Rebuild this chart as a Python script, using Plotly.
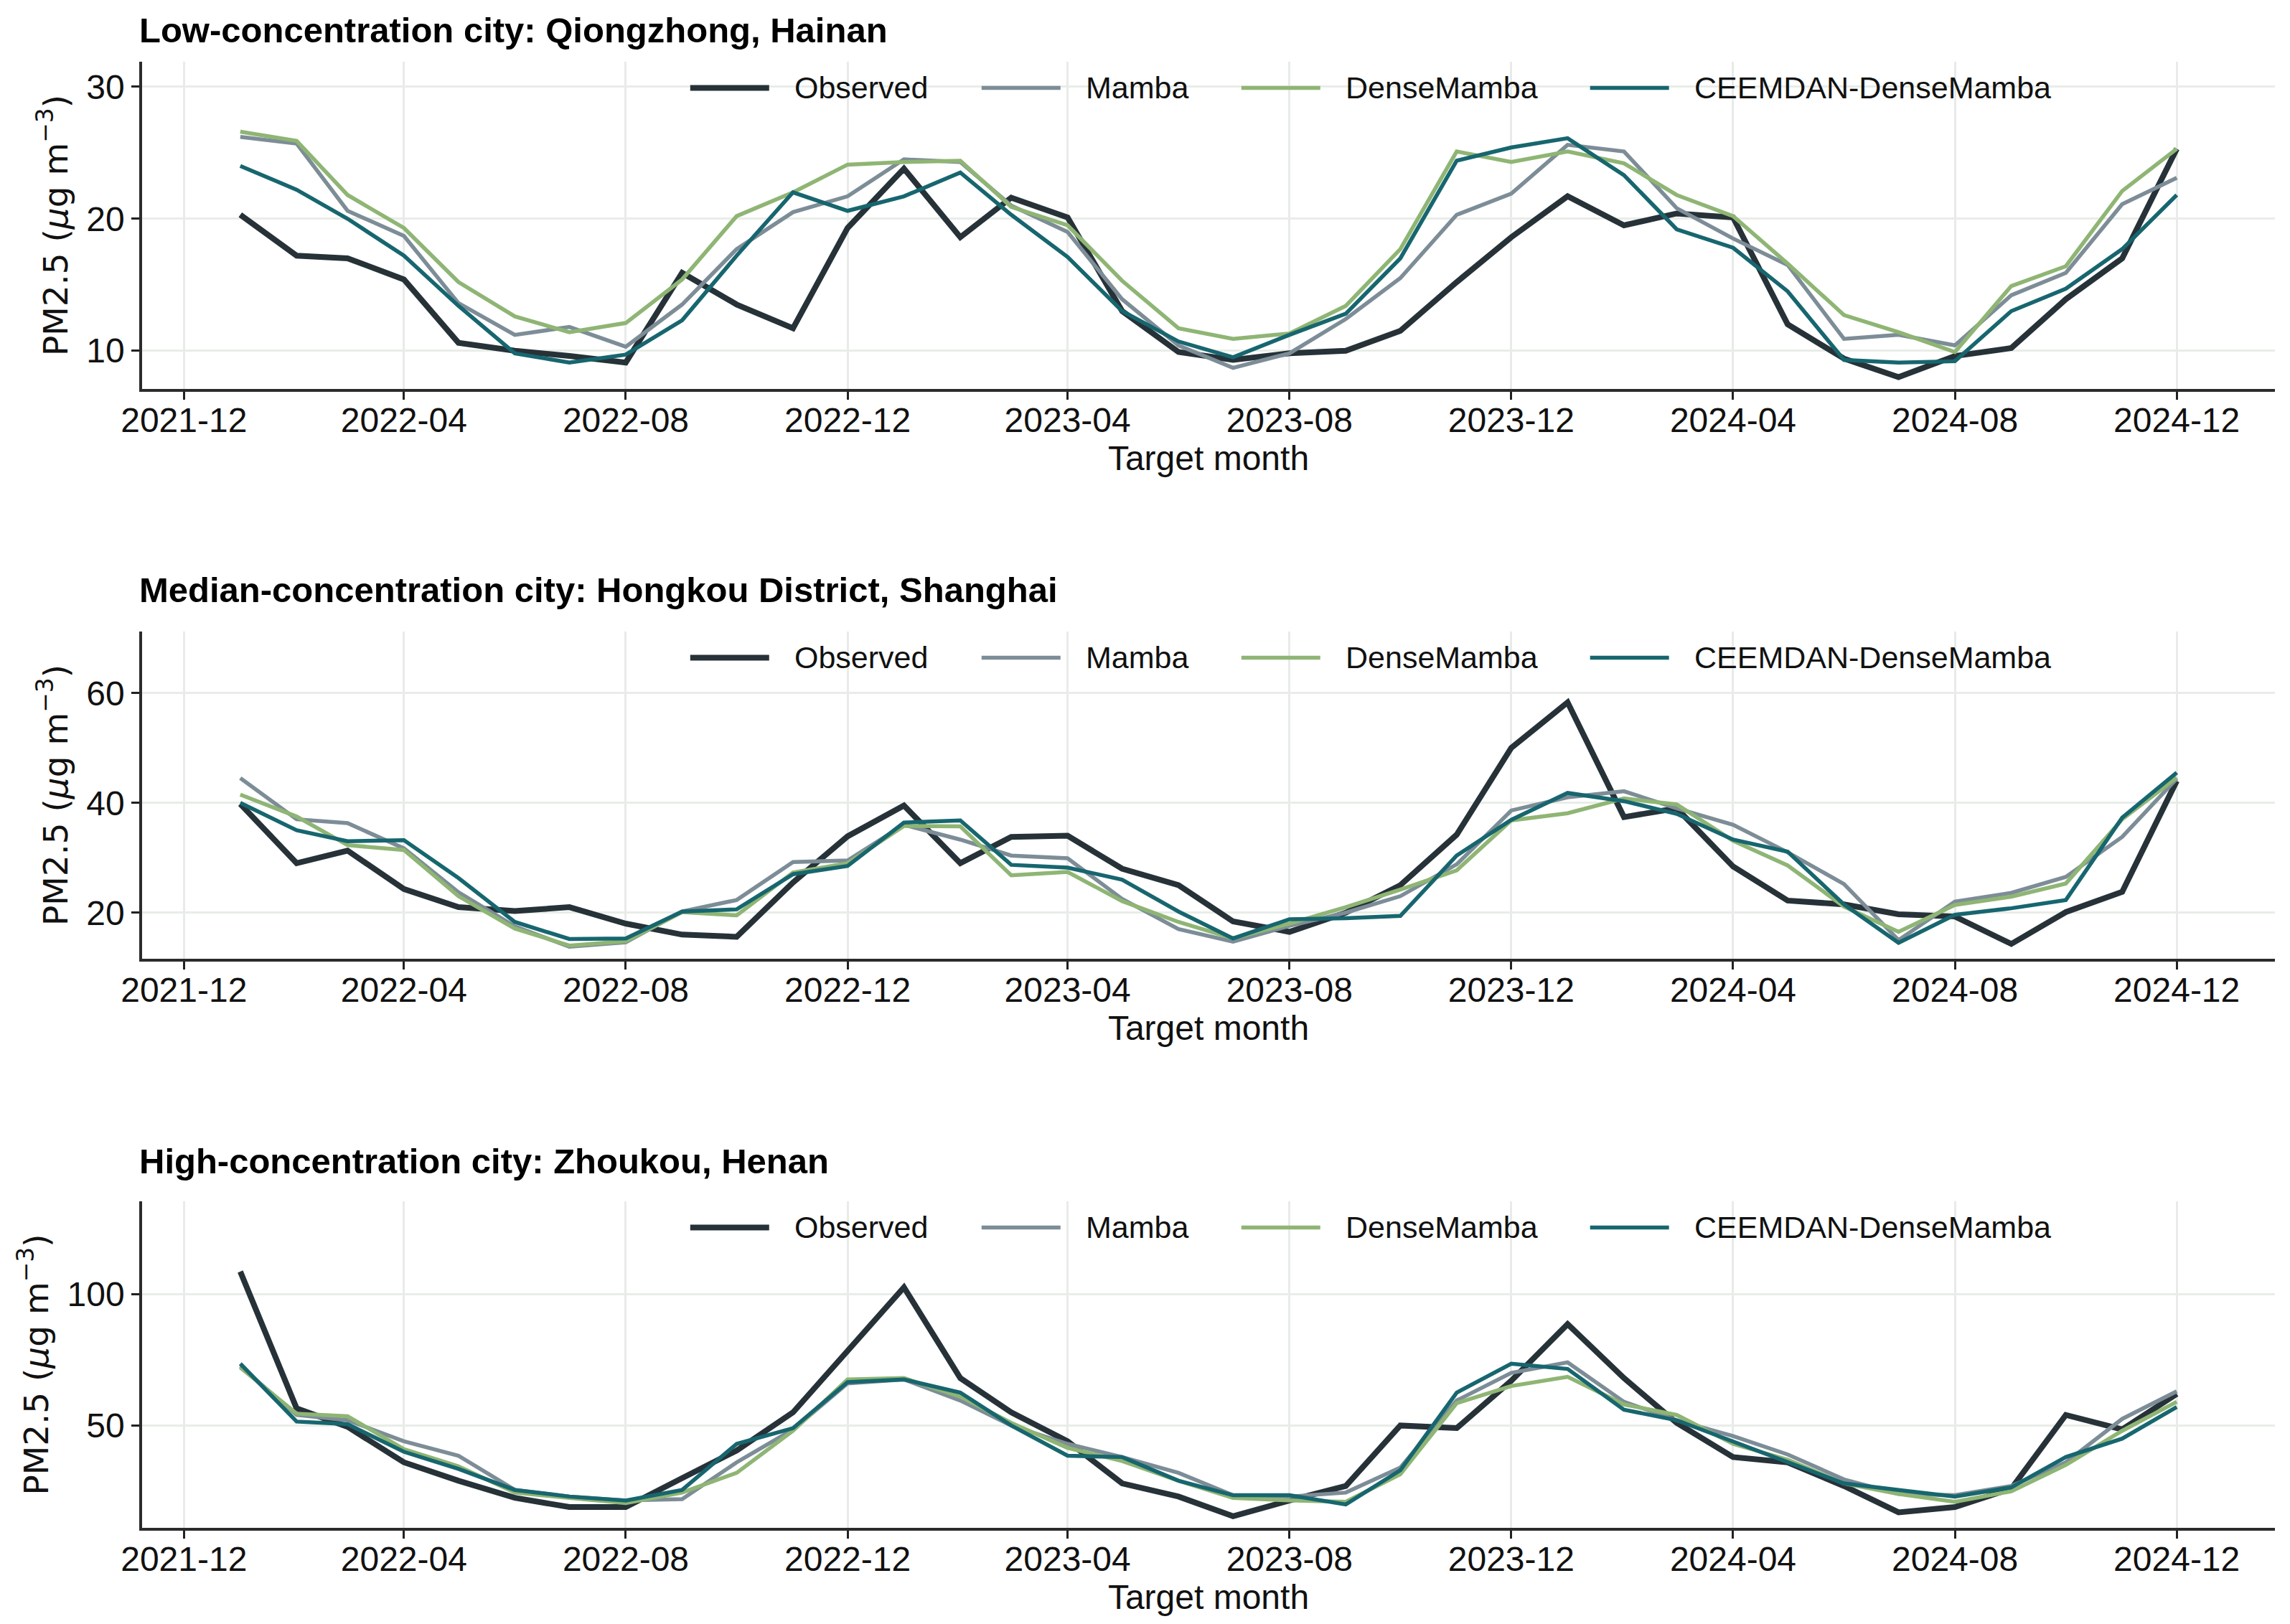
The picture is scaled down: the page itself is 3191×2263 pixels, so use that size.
"""Monthly PM2.5 forecasts for three example cities."""

import pandas as pd
import plotly.graph_objects as go
from plotly.subplots import make_subplots

months = pd.date_range("2022-01-01", "2024-12-01", freq="MS")

series_names = ["Observed", "Mamba", "DenseMamba", "CEEMDAN-DenseMamba"]
panel_titles = [
    "Low-concentration city: Qiongzhong, Hainan",
    "Median-concentration city: Hongkou District, Shanghai",
    "High-concentration city: Zhoukou, Henan",
]

# Qiongzhong, Hainan
low_observed = [20.3, 17.2, 17.0, 15.4, 10.6, 10.0, 9.6, 9.1, 15.9, 13.5, 11.7, 19.3,
                23.8, 18.6, 21.6, 20.1, 13.0, 9.9, 9.3, 9.8, 10.0, 11.5, 15.2, 18.6,
                21.7, 19.5, 20.4, 20.1, 12.0, 9.4, 8.0, 9.6, 10.2, 13.9, 17.0, 25.3]
low_mamba = [26.2, 25.7, 20.6, 18.7, 13.6, 11.2, 11.8, 10.3, 13.5, 17.7, 20.5, 21.7,
             24.5, 24.3, 21.0, 19.0, 13.9, 10.4, 8.7, 9.8, 12.4, 15.5, 20.3, 21.9,
             25.6, 25.1, 20.8, 18.5, 16.5, 10.9, 11.2, 10.4, 14.2, 15.9, 21.1, 23.1]
low_dense = [26.6, 25.9, 21.8, 19.3, 15.2, 12.6, 11.4, 12.1, 15.4, 20.2, 22.0, 24.1,
             24.3, 24.4, 20.9, 19.5, 15.3, 11.7, 10.9, 11.3, 13.4, 17.7, 25.1, 24.3,
             25.1, 24.2, 21.8, 20.2, 16.6, 12.7, 11.4, 9.9, 14.9, 16.4, 22.1, 25.3]
low_ceemdan = [24.0, 22.2, 20.0, 17.2, 13.4, 9.8, 9.1, 9.7, 12.3, 17.2, 22.0, 20.6,
               21.7, 23.5, 20.3, 17.1, 13.0, 10.7, 9.5, 11.2, 12.8, 17.0, 24.4, 25.4,
               26.1, 23.3, 19.2, 17.8, 14.5, 9.3, 9.1, 9.2, 13.0, 14.7, 17.7, 21.8]

# Hongkou District, Shanghai
mid_observed = [39.8, 29.0, 31.3, 24.3, 21.0, 20.3, 21.0, 18.0, 16.0, 15.6, 25.5, 33.9,
                39.5, 29.0, 33.8, 34.0, 28.0, 25.0, 18.4, 16.5, 20.0, 25.0, 34.2, 50.0,
                58.3, 37.4, 39.0, 28.4, 22.2, 21.5, 19.7, 19.3, 14.3, 20.1, 23.8, 44.0]
mid_mamba = [44.5, 37.0, 36.3, 31.7, 23.7, 17.5, 13.8, 14.6, 20.2, 22.3, 29.2, 29.5,
             36.0, 33.3, 30.4, 29.9, 22.5, 17.0, 14.7, 17.6, 20.0, 23.0, 28.8, 38.6,
             41.0, 42.1, 39.0, 36.0, 31.0, 25.2, 15.0, 22.0, 23.6, 26.5, 33.8, 44.4]
mid_dense = [41.5, 37.5, 32.3, 31.4, 23.0, 17.1, 14.0, 14.8, 20.1, 19.5, 27.3, 29.0,
             35.8, 35.7, 26.8, 27.4, 22.1, 18.3, 15.3, 18.0, 21.0, 24.2, 27.7, 36.8,
             38.1, 40.8, 39.7, 33.1, 28.6, 21.1, 16.5, 21.4, 22.9, 25.3, 37.0, 44.6]
mid_ceemdan = [40.0, 35.0, 33.0, 33.2, 26.3, 18.3, 15.2, 15.3, 20.2, 20.6, 27.0, 28.5,
               36.4, 36.8, 28.7, 28.2, 26.0, 20.2, 15.3, 18.8, 19.0, 19.4, 30.4, 36.9,
               41.8, 40.3, 38.0, 33.3, 31.1, 21.5, 14.5, 19.6, 20.8, 22.3, 37.3, 45.5]

# Zhoukou, Henan
high_observed = [108.5, 56.5, 49.5, 36.0, 29.0, 22.5, 19.0, 19.0, 30.0, 40.5, 55.0, 78.5,
                 102.5, 68.0, 55.0, 44.0, 28.0, 23.0, 15.5, 21.5, 27.0, 50.0, 49.0, 67.0,
                 88.5, 68.0, 51.0, 38.0, 36.0, 27.0, 17.0, 19.0, 26.0, 54.0, 48.5, 62.0]
high_mamba = [72.5, 54.0, 52.0, 44.0, 38.5, 25.5, 23.0, 21.5, 22.0, 36.0, 48.5, 66.0,
              67.5, 59.5, 50.0, 43.0, 38.0, 32.0, 23.5, 23.0, 24.5, 34.0, 59.5, 70.0,
              74.0, 59.0, 52.0, 46.0, 39.0, 29.5, 24.0, 23.5, 27.0, 36.0, 52.5, 63.0]
high_dense = [72.0, 54.5, 53.5, 41.0, 34.5, 24.5, 22.5, 20.5, 24.5, 32.0, 48.0, 67.5,
              68.0, 61.0, 51.0, 41.5, 36.5, 29.0, 22.5, 21.5, 21.0, 31.5, 58.5, 65.0,
              68.5, 58.0, 54.0, 43.0, 37.0, 28.0, 24.0, 21.0, 25.0, 35.0, 48.0, 59.0]
high_ceemdan = [73.5, 51.5, 50.5, 40.0, 33.5, 25.5, 23.0, 21.5, 25.5, 43.0, 49.0, 66.5,
                67.5, 62.5, 50.0, 38.5, 38.0, 29.0, 23.5, 23.5, 20.0, 33.0, 62.5, 73.5,
                71.5, 56.0, 52.0, 44.0, 36.0, 28.0, 25.5, 23.0, 26.5, 38.0, 45.0, 57.0]

panels = [
    [low_observed, low_mamba, low_dense, low_ceemdan],
    [mid_observed, mid_mamba, mid_dense, mid_ceemdan],
    [high_observed, high_mamba, high_dense, high_ceemdan],
]

y_ranges = [[7.1, 31.9], [11.6, 71.2], [11.1, 135.2]]
y_dticks = [10, 20, 50]
x_ticks = pd.date_range("2021-12-01", "2024-12-01", freq="4MS")

colors = ["#263238", "#7d8d97", "#8fb574", "#17666f"]
widths = [8, 5.5, 5.5, 5.5]

FONT = "Liberation Sans, Arial, sans-serif"
W, H = 3191, 2263
x_domain = [190 / W, 3162 / W]
y_domains = [
    [1 - 534 / H, 1 - 78 / H],
    [1 - 1328 / H, 1 - 872 / H],
    [1 - 2121 / H, 1 - 1666 / H],
]
title_y = [1 - 34 / H, 1 - 814 / H, 1 - 1610 / H]

# legend keys drawn inside each panel (fractions of the axis domain)
key_x0 = [0.2570, 0.3936, 0.5154, 0.6789]
key_len = 0.0370
key_y = 0.92

fig = make_subplots(rows=3, cols=1)

for r, values in enumerate(panels, start=1):
    for name, vals, col, lw in zip(series_names, values, colors, widths):
        fig.add_trace(
            go.Scatter(
                x=months, y=vals, mode="lines", name=name,
                line=dict(color=col, width=lw),
                showlegend=False,
            ),
            row=r, col=1,
        )

    sfx = "" if r == 1 else str(r)
    fig.update_layout({
        f"xaxis{sfx}": dict(
            domain=x_domain,
            anchor=f"y{sfx}",
            range=["2021-11-08", "2025-01-24"],
            tickvals=x_ticks,
            ticktext=[d.strftime("%Y-%m") for d in x_ticks],
            ticks="outside", ticklen=11, tickwidth=3, tickcolor="#222222",
            ticklabelstandoff=-12,
            showline=True, linecolor="#2b2b2b", linewidth=3.5,
            showgrid=True, gridcolor="#e8ebe8", gridwidth=2.5,
            zeroline=False, mirror=False,
            tickfont=dict(family=FONT, size=48, color="#111111"),
            title=dict(text="Target month", font=dict(family=FONT, size=48, color="#111111"),
                       standoff=4),
            automargin=False,
        ),
        f"yaxis{sfx}": dict(
            domain=y_domains[r - 1],
            anchor=f"x{sfx}",
            range=y_ranges[r - 1],
            dtick=y_dticks[r - 1],
            ticks="outside", ticklen=11, tickwidth=3, tickcolor="#222222",
            showline=True, linecolor="#2b2b2b", linewidth=3.5,
            showgrid=True, gridcolor="#e8ede8", gridwidth=2.5,
            zeroline=False, mirror=False,
            tickfont=dict(family=FONT, size=48, color="#111111"),
            title=dict(text="PM2.5 (<i>μ</i>g m<sup>−3</sup>)",
                       font=dict(family="DejaVu Sans", size=47, color="#111111"),
                       standoff=12),
            automargin=False,
        ),
    })

    fig.add_annotation(
        text=f"<b>{panel_titles[r - 1]}</b>",
        xref="paper", yref="paper", x=184 / W, y=title_y[r - 1],
        xanchor="left", yanchor="middle", showarrow=False,
        font=dict(family=FONT, size=49, color="#000000"),
    )

    for name, col, lw, x0 in zip(series_names, colors, widths, key_x0):
        fig.add_shape(
            type="line", xref=f"x{sfx} domain", yref=f"y{sfx} domain",
            x0=x0, x1=x0 + key_len, y0=key_y, y1=key_y,
            line=dict(color=col, width=lw), opacity=1, layer="above",
        )
        fig.add_annotation(
            text=name, xref=f"x{sfx} domain", yref=f"y{sfx} domain",
            x=x0 + key_len + 0.0113, y=key_y,
            xanchor="left", yanchor="middle", showarrow=False,
            font=dict(family=FONT, size=43, color="#111111"),
        )

fig.update_layout(
    template="simple_white",
    width=W, height=H,
    margin=dict(l=0, r=0, t=0, b=0),
    paper_bgcolor="white", plot_bgcolor="white",
    showlegend=False,
)

fig.write_html("out.html")
